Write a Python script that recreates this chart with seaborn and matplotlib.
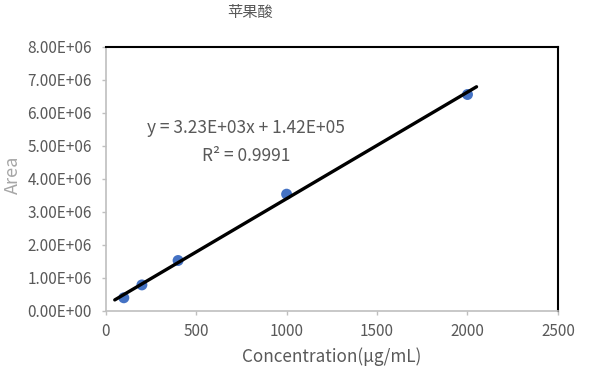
import numpy as np
import pandas as pd
import matplotlib
matplotlib.use("Agg")
import matplotlib.pyplot as plt
import seaborn as sns

# data
conc = [100, 200, 400, 1000, 2000]
area = [0.40e6, 0.79e6, 1.53e6, 3.54e6, 6.56e6]
trend_x = [50, 2050]
eq_text = "y = 3.23E+03x + 1.42E+05"
r2_text = "R² = 0.9991"
title = "苹果酸"

df = pd.DataFrame({"Concentration": conc, "Area": area})

# linear trendline
slope, intercept = np.polyfit(conc, area, 1)
trend = pd.DataFrame({"x": trend_x})
trend["y"] = slope * trend["x"] + intercept

sns.set_style("white")
plt.rcParams['font.family'] = ['Noto Sans CJK SC', 'DejaVu Sans']
txt = "#595959"

fig = plt.figure(figsize=(5.98, 3.70), dpi=100)
ax = fig.add_axes([0.1768, 0.1595, 0.933 - 0.1768, 0.873 - 0.1595])

sns.scatterplot(data=df, x="Concentration", y="Area", ax=ax, color="#4472C4",
                s=62, edgecolor="none", zorder=2)
sns.lineplot(data=trend, x="x", y="y", ax=ax, color="black", linewidth=2.4, zorder=3)

ax.set_xlim(0, 2500)
ax.set_ylim(0, 8e6)
ax.set_xticks(np.arange(0, 2501, 500))
ax.set_yticks(np.arange(0, 8.01e6, 1e6))
ax.set_yticklabels([f"{v:.2E}" for v in np.arange(0, 8.01e6, 1e6)])

for s in ["left", "bottom"]:
    ax.spines[s].set_color("#BFBFBF")
    ax.spines[s].set_linewidth(1.2)
for s in ["top", "right"]:
    ax.spines[s].set_color("black")
    ax.spines[s].set_linewidth(1.5)

ax.tick_params(axis="both", colors="#BFBFBF", labelcolor=txt, labelsize=11,
               length=3, width=1, direction="out", left=True, bottom=True)
ax.tick_params(axis="y", pad=7)
ax.tick_params(axis="x", pad=6)

ax.set_xlabel("Concentration(μg/mL)", fontsize=12.3, color=txt, labelpad=5)
ax.set_ylabel("")
fig.text(12.5 / 598, 1 - 175 / 370, "Area", rotation=90, fontsize=13,
         color="#A6A6A6", ha="center", va="center")

ax.text(776, 5.53e6, eq_text, fontsize=12.5, color=txt, ha="center", va="center")
ax.text(776, 4.70e6, r2_text, fontsize=12.5, color=txt, ha="center", va="center")

fig.text(250 / 598, 1 - 12 / 370, title, fontsize=11, color=txt,
         ha="center", va="center")

fig.savefig("out.png", dpi=100)
